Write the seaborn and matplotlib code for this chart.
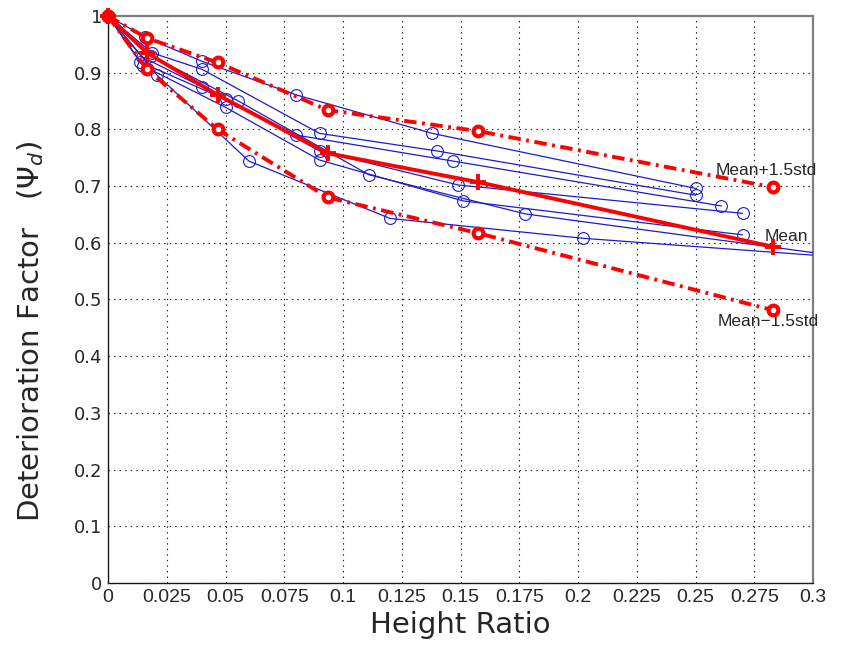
import matplotlib
matplotlib.use("Agg")
import matplotlib.pyplot as plt
import seaborn as sns

# Measured deterioration factor of each specimen against height ratio
s1_x = [0, 0.0157, 0.040, 0.080, 0.138, 0.250]
s1_y = [1, 0.963, 0.920, 0.861, 0.793, 0.696]
s2_x = [0, 0.0187, 0.040, 0.090, 0.140, 0.250]
s2_y = [1, 0.935, 0.906, 0.793, 0.762, 0.684]
s3_x = [0, 0.0145, 0.040, 0.080, 0.147, 0.261]
s3_y = [1, 0.928, 0.875, 0.790, 0.744, 0.665]
s4_x = [0, 0.0136, 0.050, 0.090, 0.149, 0.270]
s4_y = [1, 0.919, 0.853, 0.762, 0.702, 0.652]
s5_x = [0, 0.0150, 0.050, 0.090, 0.151, 0.270]
s5_y = [1, 0.912, 0.839, 0.746, 0.674, 0.614]
s6_x = [0, 0.0208, 0.060, 0.120, 0.202, 0.340]
s6_y = [1, 0.896, 0.744, 0.643, 0.608, 0.566]
s7_x = [0, 0.0185, 0.0555, 0.111, 0.1775, 0.330]
s7_y = [1, 0.930, 0.850, 0.720, 0.651, 0.566]

# Statistics over the specimens
mean_x = [0, 0.0166, 0.0466, 0.0935, 0.1575, 0.283]
mean_y = [1, 0.935, 0.861, 0.758, 0.707, 0.593]
upper_y = [1, 0.961, 0.918, 0.834, 0.797, 0.698]
lower_y = [1, 0.906, 0.800, 0.680, 0.617, 0.481]

x_ticks = [0, 0.025, 0.05, 0.075, 0.1, 0.125, 0.15, 0.175, 0.2, 0.225, 0.25, 0.275, 0.3]
x_tick_labels = ["0", "0.025", "0.05", "0.075", "0.1", "0.125", "0.15", "0.175",
                 "0.2", "0.225", "0.25", "0.275", "0.3"]
y_ticks = [0, 0.1, 0.2, 0.3, 0.4, 0.5, 0.6, 0.7, 0.8, 0.9, 1]
y_tick_labels = ["0", "0.1", "0.2", "0.3", "0.4", "0.5", "0.6", "0.7", "0.8", "0.9", "1"]

sns.set_theme(style="white")
plt.rcParams["font.family"] = ["Liberation Sans", "DejaVu Sans"]
plt.rcParams["lines.scale_dashes"] = False

fig = plt.figure(figsize=(8.55, 6.56), dpi=100)
ax = fig.add_axes([108 / 855, 1 - 583 / 656, 705 / 855, 567 / 656])

blue = "#1c1cc8"
specimens = [(s1_x, s1_y), (s2_x, s2_y), (s3_x, s3_y), (s4_x, s4_y),
             (s5_x, s5_y), (s6_x, s6_y), (s7_x, s7_y)]
for sx, sy in specimens:
    sns.lineplot(x=sx, y=sy, estimator=None, sort=False, ax=ax, color=blue,
                 lw=0.9, marker="o", markersize=8.5, markerfacecolor="none",
                 markeredgecolor=blue, markeredgewidth=0.8, zorder=3)

dashdot = (0, (9, 4, 2, 4))
for by in (upper_y, lower_y):
    sns.lineplot(x=mean_x, y=by, estimator=None, sort=False, ax=ax, color="red",
                 lw=2.8, linestyle=dashdot, marker="o", markersize=7,
                 markerfacecolor="white", markeredgecolor="red",
                 markeredgewidth=3, zorder=5, clip_on=False)
sns.lineplot(x=mean_x, y=mean_y, estimator=None, sort=False, ax=ax, color="red",
             lw=2.8, marker="+", markersize=12, markeredgecolor="red",
             markeredgewidth=2.8, zorder=6, clip_on=False)

ax.set_xlim(0, 0.3)
ax.set_ylim(0, 1)
ax.set_xticks(x_ticks)
ax.set_xticklabels(x_tick_labels, fontsize=14)
ax.set_yticks(y_ticks)
ax.set_yticklabels(y_tick_labels, fontsize=13, family=["DejaVu Sans"])
ax.tick_params(direction="in", length=5, width=0.8, color="k", pad=4)
ax.grid(True, color="k", linestyle=(0, (1, 3)), linewidth=0.8)

for side in ("left", "bottom"):
    ax.spines[side].set_color("k")
    ax.spines[side].set_linewidth(1.0)
for side in ("top", "right"):
    ax.spines[side].set_color("#7f7f7f")
    ax.spines[side].set_linewidth(1.6)

ax.set_xlabel("Height Ratio", fontsize=21, family=["DejaVu Sans"])
ax.xaxis.set_label_coords(0.5, -0.049)
ax.set_ylabel(r"Deterioration Factor   $(\mathit{\Psi}_d)$", fontsize=21,
              family=["DejaVu Sans"])
ax.yaxis.set_label_coords(-0.088, 0.444)

ax.text(0.2587, 0.728, "Mean+1.5std", fontsize=12.5, va="center", ha="left")
ax.text(0.2796, 0.611, "Mean", fontsize=12.5, va="center", ha="left")
ax.text(0.2596, 0.462, "Mean\u22121.5std", fontsize=12.5, va="center", ha="left")

fig.savefig("out.png", dpi=100)
